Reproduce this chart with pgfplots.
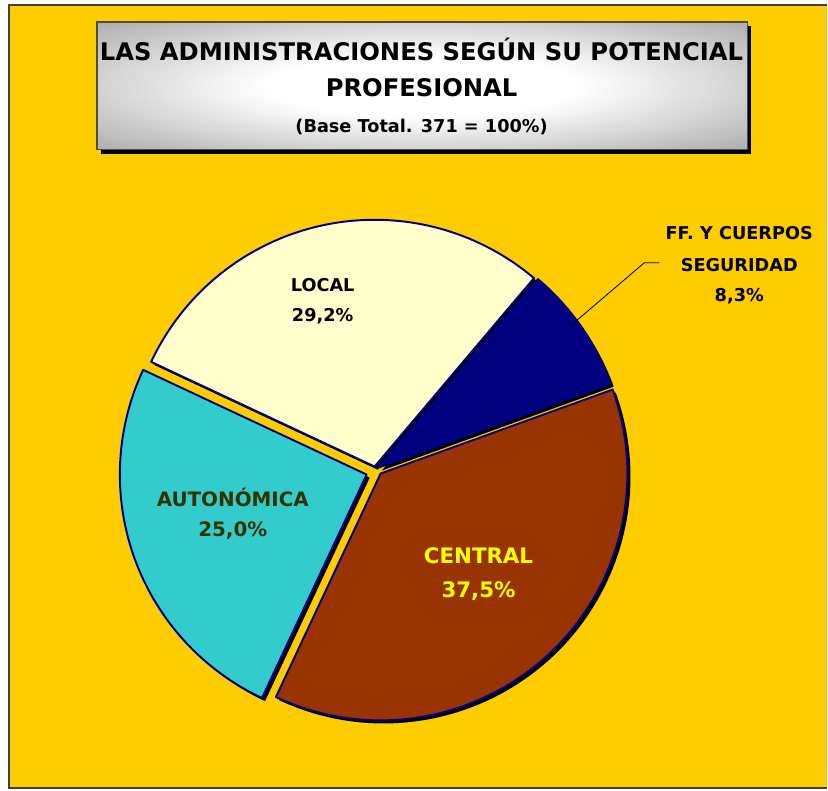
\documentclass[border=0pt]{standalone}
\usepackage{pgfplots}
\pgfplotsset{compat=1.18}
\usepackage{fontspec}
\setmainfont{DejaVu Sans}

\definecolor{fondo}{HTML}{FFCC00}
\definecolor{marino}{HTML}{000080}
\definecolor{crema}{HTML}{FFFFCC}
\definecolor{turquesa}{HTML}{33CCCC}
\definecolor{teja}{HTML}{993300}
\definecolor{oliva}{HTML}{333300}
\definecolor{amarillo}{HTML}{FFFF00}

\pgfdeclareradialshading{titulo}{\pgfpoint{0bp}{0bp}}{%
  color(0bp)=(white); color(12bp)=(white); color(50bp)=(black!52); color(72bp)=(black!62)}

\tikzset{sombra/.style={black,shift={(0.045cm,-0.045cm)}}}

\begin{document}
\begin{tikzpicture}
\def\R{3.58cm}
\begin{axis}[
    scale only axis,
    width=12cm,
    height=11.464cm,
    xmin=0, xmax=828,
    ymin=0, ymax=791,
    hide axis,
    clip=false
]
    % fondo y marco
    \fill[white] (axis cs:0,0) rectangle (axis cs:828,791);
    \fill[fondo] (axis cs:9,2) rectangle (axis cs:828,786);
    \draw[black!75,line width=0.7pt]
        (axis cs:828,786) -- (axis cs:9,786) -- (axis cs:9,2) -- (axis cs:828,2);

    % recuadro del titulo
    \fill[black] (axis cs:101,637) rectangle (axis cs:752,765);
    \shade[shading=titulo,draw=black!70,line width=0.5pt]
        (axis cs:97,641) rectangle (axis cs:748,769);
    \node[font=\fontsize{10}{12}\selectfont\bfseries] at (axis cs:422,742)
        {LAS ADMINISTRACIONES SEGÚN SU POTENCIAL};
    \node[font=\fontsize{10}{12}\selectfont\bfseries] at (axis cs:422,703)
        {PROFESIONAL};
    \node[font=\fontsize{7.3}{9}\selectfont\bfseries] at (axis cs:422,664)
        {(Base Total. 371 = 100\%)};

    % sombras de los sectores
    \fill[sombra] (axis cs:379,323) -- ++(19.9:\R)
        arc[start angle=19.9, delta angle=8.3*3.6, radius=\R] -- cycle;
    \fill[sombra] (axis cs:375,324) -- ++(49.78:\R)
        arc[start angle=49.78, delta angle=29.2*3.6, radius=\R] -- cycle;
    \fill[sombra] (axis cs:367,316) -- ++(154.9:\R)
        arc[start angle=154.9, delta angle=25.0*3.6, radius=\R] -- cycle;
    \fill[sombra] (axis cs:381,317) -- ++(244.9:\R)
        arc[start angle=244.9, delta angle=37.5*3.6, radius=\R] -- cycle;

    % sectores
    \filldraw[fill=marino,draw=marino,line width=0.8pt,line join=round]
        (axis cs:379,323) -- ++(19.9:\R)
        arc[start angle=19.9, delta angle=8.3*3.6, radius=\R] -- cycle;
    \filldraw[fill=crema,draw=marino,line width=0.8pt,line join=round]
        (axis cs:375,324) -- ++(49.78:\R)
        arc[start angle=49.78, delta angle=29.2*3.6, radius=\R] -- cycle;
    \filldraw[fill=turquesa,draw=marino,line width=0.8pt,line join=round]
        (axis cs:367,316) -- ++(154.9:\R)
        arc[start angle=154.9, delta angle=25.0*3.6, radius=\R] -- cycle;
    \filldraw[fill=teja,draw=marino,line width=0.8pt,line join=round]
        (axis cs:381,317) -- ++(244.9:\R)
        arc[start angle=244.9, delta angle=37.5*3.6, radius=\R] -- cycle;

    % linea guia
    \draw[black,line width=0.35pt]
        (axis cs:570,464) -- (axis cs:645,528) -- (axis cs:660,528);

    % etiquetas
    \node[font=\fontsize{7.3}{9}\selectfont\bfseries] at (axis cs:323,506) {LOCAL};
    \node[font=\fontsize{7.3}{9}\selectfont\bfseries] at (axis cs:323,475) {29,2\%};
    \node[font=\fontsize{7.3}{9}\selectfont\bfseries] at (axis cs:740,558) {FF. Y CUERPOS};
    \node[font=\fontsize{7.3}{9}\selectfont\bfseries] at (axis cs:740,526) {SEGURIDAD};
    \node[font=\fontsize{7.3}{9}\selectfont\bfseries] at (axis cs:740,495) {8,3\%};
    \node[oliva,font=\fontsize{8.2}{10}\selectfont\bfseries] at (axis cs:233,293) {AUTONÓMICA};
    \node[oliva,font=\fontsize{8.2}{10}\selectfont\bfseries] at (axis cs:233,260) {25,0\%};
    \node[amarillo,font=\fontsize{8.8}{10}\selectfont\bfseries] at (axis cs:479,235) {CENTRAL};
    \node[amarillo,font=\fontsize{8.8}{10}\selectfont\bfseries] at (axis cs:479,199) {37,5\%};
\end{axis}
\end{tikzpicture}
\end{document}
